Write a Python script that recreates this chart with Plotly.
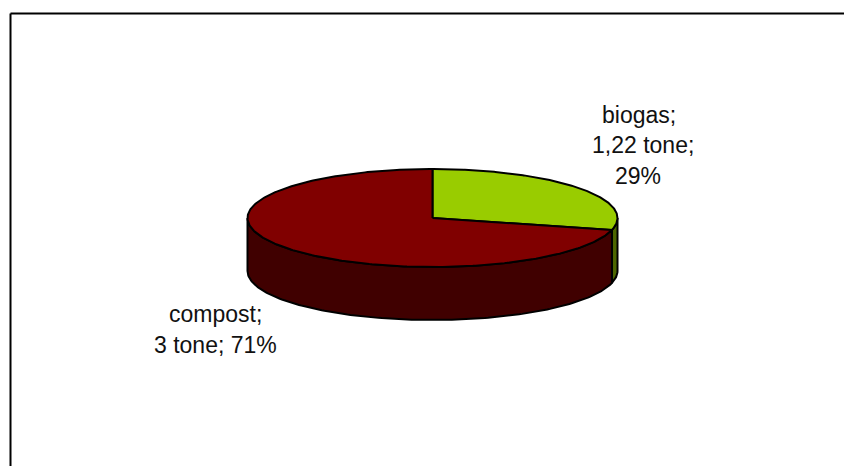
import numpy as np
import plotly.graph_objects as go

# Data
categories = ["biogas", "compost"]
values = [1.22, 3]
value_labels = ["1,22 tone", "3 tone"]
percent_labels = ["29%", "71%"]

# Style
top_colors = ["#99CC00", "#800000"]
side_colors = ["#4D6600", "#400000"]
W, H = 844, 466
CX, CY, RX, RY, DEPTH = 432.5, 218.0, 185.0, 49.0, 53.0
FONT = dict(family="Liberation Sans, Arial, sans-serif", size=23, color="#111111")

shares = np.array(values, dtype=float) / sum(values)
edges = np.concatenate([[0.0], np.cumsum(shares)]) * 2 * np.pi


def rim(a0, a1, n=160):
    t = np.linspace(a0, a1, n)
    return np.sin(t), -np.cos(t)


fig = go.Figure()
line = dict(color="black", width=2)

# side walls (only the front half, pi/2 .. 3pi/2, is visible)
for i in range(len(values)):
    a0, a1 = max(edges[i], np.pi / 2), min(edges[i + 1], 3 * np.pi / 2)
    if a1 <= a0:
        continue
    x, y = rim(a0, a1)
    d = DEPTH / RY
    xs = np.concatenate([x, x[::-1], x[:1]])
    ys = np.concatenate([y, y[::-1] + d, y[:1]])
    fig.add_trace(go.Scatter(x=xs, y=ys, mode="lines", fill="toself",
                             fillcolor=side_colors[i], line=line, hoverinfo="skip"))

# top face
for i in range(len(values)):
    x, y = rim(edges[i], edges[i + 1], 300)
    xs = np.concatenate([[0], x, [0]])
    ys = np.concatenate([[0], y, [0]])
    fig.add_trace(go.Scatter(x=xs, y=ys, mode="lines", fill="toself",
                             fillcolor=top_colors[i], line=line, hoverinfo="skip"))

# data labels, one annotation per line to keep the original's wide leading
label_lines = [
    (f"{categories[0]};", 639, 115),
    (f"{value_labels[0]};", 643, 145),
    (percent_labels[0], 638, 176),
    (f"{categories[1]};", 216, 314),
    (f"{value_labels[1]}; {percent_labels[1]}", 216, 345),
]
for text, px, py in label_lines:
    fig.add_annotation(text=text, x=px / W, y=1 - py / H, xref="paper", yref="paper",
                       showarrow=False, font=FONT, xanchor="center", yanchor="middle")

# chart-area border: only the top and left edges are inside the crop
fig.add_shape(type="line", xref="paper", yref="paper", x0=10.5 / W, x1=1, y0=1 - 13.5 / H, y1=1 - 13.5 / H,
              line=dict(color="black", width=2))
fig.add_shape(type="line", xref="paper", yref="paper", x0=10.5 / W, x1=10.5 / W, y0=0, y1=1 - 13.5 / H,
              line=dict(color="black", width=2))

fig.update_layout(
    width=W, height=H, autosize=False,
    margin=dict(l=0, r=0, t=0, b=0),
    paper_bgcolor="white", plot_bgcolor="white", showlegend=False,
    xaxis=dict(visible=False, range=[-CX / RX, (W - CX) / RX], fixedrange=True),
    yaxis=dict(visible=False, range=[(H - CY) / RY, -CY / RY], fixedrange=True),
)
fig.write_html("out.html", config=dict(displayModeBar=False),
               post_script="document.body.style.margin='0';document.documentElement.style.overflow='hidden';")
